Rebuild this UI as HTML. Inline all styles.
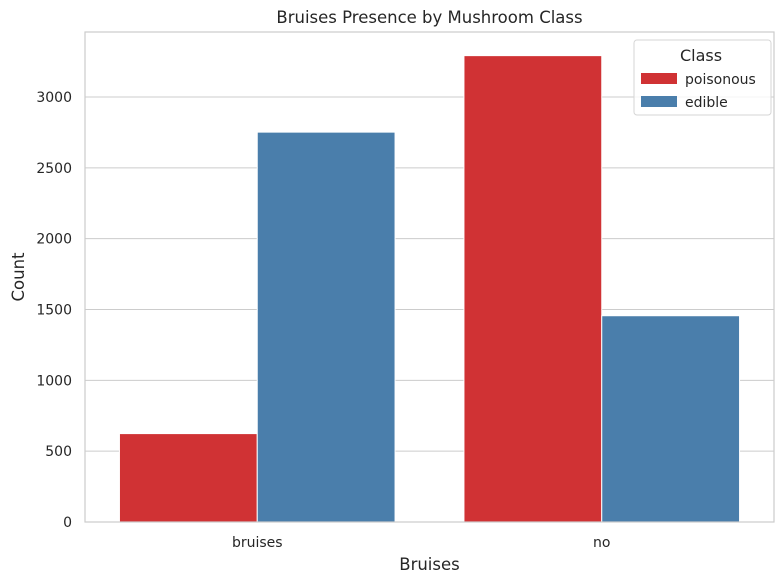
<!DOCTYPE html>
<html><head><meta charset="utf-8"><style>
html,body{margin:0;padding:0;background:#fff;}
svg{display:block;font-family:"DejaVu Sans","Liberation Sans",sans-serif;}
</style></head><body>
<svg id="chart" width="784" height="584" xmlns="http://www.w3.org/2000/svg"></svg>
<script>
const categories = ["bruises", "no"];
const seriesNames = ["poisonous", "edible"];
const poisonousValues = [624, 3292];
const edibleValues = [2752, 1456];
const yTicks = [0, 500, 1000, 1500, 2000, 2500, 3000];
const colors = ["#d03234", "#4a7eab"];

const NS = "http://www.w3.org/2000/svg";
const svg = document.getElementById("chart");
const L = 85, R = 774, T = 32, B = 522;
const yScale = v => B - v * (425 / 3000);
const band = (R - L) / categories.length;
const xCenter = i => L + band * (i + 0.5);
function mk(tag, attrs, text) {
  const e = document.createElementNS(NS, tag);
  for (const k in attrs) e.setAttribute(k, attrs[k]);
  if (text !== undefined) e.textContent = text;
  svg.appendChild(e);
  return e;
}
yTicks.forEach(t => {
  const g = mk("line", {x1: L, x2: R, y1: yScale(t), y2: yScale(t), stroke: "#cccccc", "stroke-width": 1});
  
  
  const lb = mk("text", {x: L - 13, y: yScale(t) + 5, "text-anchor": "end", "font-size": 14, fill: "#262626"}, t);
  
  
});
const series = [poisonousValues, edibleValues];
const bw = band * 0.4;
series.forEach((vals, s) => {
  vals.forEach((v, i) => {
    const x = xCenter(i) - band * 0.4 + s * bw;
    const r = mk("rect", {x: x, y: yScale(v), width: bw, height: B - yScale(v), fill: colors[s], stroke: "#fff", "stroke-width": 1});
    
    
  });
});
const fr = mk("rect", {x: L, y: T, width: R - L, height: B - T, fill: "none", stroke: "#cccccc", "stroke-width": 1.2});


categories.forEach((c, i) => {
  const t = mk("text", {x: xCenter(i), y: 547, "text-anchor": "middle", "font-size": 14, fill: "#262626"}, c);
  
  
});
const xt = mk("text", {x: (L + R) / 2, y: 570, "text-anchor": "middle", "font-size": 16.5, fill: "#262626"}, "Bruises");


const yt = mk("text", {x: 24, y: (T + B) / 2, "text-anchor": "middle", "font-size": 16.5, fill: "#262626", transform: "rotate(-90 24 " + (T + B) / 2 + ")"}, "Count");


const ti = mk("text", {x: (L + R) / 2, y: 23, "text-anchor": "middle", "font-size": 16.5, fill: "#262626"}, "Bruises Presence by Mushroom Class");


const lg = mk("rect", {x: 634, y: 40, width: 137, height: 75, rx: 3, fill: "#fff", "fill-opacity": 0.8, stroke: "#d6d6d6"});


const lt = mk("text", {x: 701, y: 61, "text-anchor": "middle", "font-size": 16, fill: "#262626"}, "Class");


seriesNames.forEach((n, s) => {
  const y = 73 + s * 23;
  const p = mk("rect", {x: 641, y: y, width: 36, height: 11, fill: colors[s]});
  
  
  const t = mk("text", {x: 685, y: y + 11, "font-size": 14, fill: "#262626"}, n);
  
  
});
</script>
</body></html>
